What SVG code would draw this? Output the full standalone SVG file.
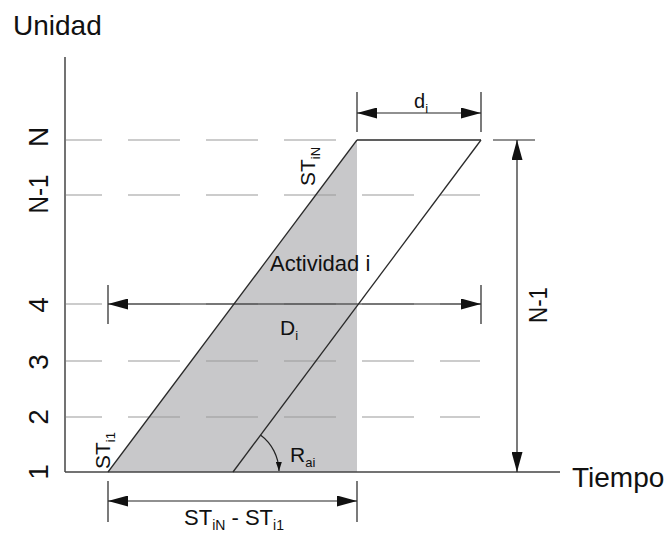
<svg xmlns="http://www.w3.org/2000/svg" width="669" height="538" viewBox="0 0 669 538">
<defs>
<style>
text{font-family:"Liberation Sans",Arial,sans-serif;fill:#111}
.grid{stroke:#9a9a9a;stroke-width:1.2;stroke-dasharray:52 26;stroke-dashoffset:16;fill:none}
.axis{stroke:#444;stroke-width:1.5;fill:none}
.edge{stroke:#2a2a2a;stroke-width:1.3;fill:none}
.dim{stroke:#222;stroke-width:1.2;fill:none}
.tick{stroke:#222;stroke-width:1.2}
.ax{font-size:28px}
.lbl{font-size:21px}
.sub{font-size:13px}
</style>
<marker id="arr" markerUnits="userSpaceOnUse" markerWidth="20" markerHeight="11" refX="20" refY="5.5" orient="auto-start-reverse">
<path d="M0,0 L20,5.5 L0,11 z" fill="#111"/>
</marker>
<marker id="arrS" markerUnits="userSpaceOnUse" markerWidth="9" markerHeight="6" refX="9" refY="3" orient="auto">
<path d="M0,0 L9,3 L0,6 z" fill="#111"/>
</marker>
</defs>
<rect width="669" height="538" fill="#fff"/>

<g id="shade">
<polygon points="108,472 357,140 357,472" fill="#c8c8ca"/>
</g>

<g id="grid">
<line class="grid" x1="66" y1="140" x2="357" y2="140"/>
<line class="grid" x1="66" y1="195" x2="480" y2="195"/>
<line class="grid" x1="66" y1="304" x2="480" y2="304"/>
<line class="grid" x1="66" y1="361" x2="480" y2="361"/>
<line class="grid" x1="66" y1="417" x2="480" y2="417"/>
</g>

<g id="axes">
<line class="axis" x1="65" y1="57" x2="65" y2="472"/>
<line class="axis" x1="65" y1="472" x2="560" y2="472"/>
<text x="13" y="35" font-size="28">Unidad</text>
<text x="572" y="487" font-size="28">Tiempo</text>
<g class="ax" text-anchor="middle">
<text transform="translate(48,137) rotate(-90)">N</text>
<text transform="translate(48,194) rotate(-90)" textLength="39" lengthAdjust="spacingAndGlyphs">N-1</text>
<text transform="translate(48,305) rotate(-90)">4</text>
<text transform="translate(48,362) rotate(-90)">3</text>
<text transform="translate(48,417) rotate(-90)">2</text>
<text transform="translate(48,472) rotate(-90)">1</text>
</g>
</g>

<g id="activity">
<line class="edge" x1="108" y1="472" x2="357" y2="140"/>
<line class="edge" x1="233" y1="472" x2="481" y2="140"/>
<line class="edge" x1="357" y1="140" x2="481" y2="140"/>
<text x="270" y="271" font-size="22">Actividad i</text>
<text transform="translate(315,186) rotate(-90)" class="lbl">ST<tspan class="sub" dy="5">iN</tspan></text>
<text transform="translate(110,469) rotate(-90)" class="lbl">ST<tspan class="sub" dy="5">i1</tspan></text>
</g>

<g id="connectors">
<!-- d_i -->
<line class="tick" x1="357" y1="92" x2="357" y2="132"/>
<line class="tick" x1="481" y1="92" x2="481" y2="132"/>
<line class="dim" x1="357" y1="113" x2="481" y2="113" marker-start="url(#arr)" marker-end="url(#arr)"/>
<!-- D_i -->
<line class="tick" x1="108" y1="285" x2="108" y2="324"/>
<line class="tick" x1="481" y1="285" x2="481" y2="324"/>
<line class="dim" x1="108" y1="304" x2="481" y2="304" marker-start="url(#arr)" marker-end="url(#arr)"/>
<!-- N-1 -->
<line class="tick" x1="493" y1="140" x2="535" y2="140"/>
<line class="dim" x1="517" y1="140" x2="517" y2="472" marker-start="url(#arr)" marker-end="url(#arr)"/>
<!-- ST difference -->
<line class="tick" x1="108" y1="481" x2="108" y2="522"/>
<line class="tick" x1="357" y1="481" x2="357" y2="522"/>
<line class="dim" x1="108" y1="501" x2="357" y2="501" marker-start="url(#arr)" marker-end="url(#arr)"/>
<!-- R_ai arc -->
<path class="dim" d="M260.5,435 A46,46 0 0 1 279,471" marker-end="url(#arrS)"/>
</g>

<g id="labels">
<text x="414" y="108" font-size="20">d<tspan font-size="13" dy="5">i</tspan></text>
<text x="280" y="335" font-size="21">D<tspan class="sub" dy="5">i</tspan></text>
<text x="290" y="462" class="lbl">R<tspan class="sub" dy="5">ai</tspan></text>
<text transform="translate(547,305) rotate(-90)" font-size="25" text-anchor="middle" textLength="36" lengthAdjust="spacingAndGlyphs">N-1</text>
<text x="184" y="525" font-size="22">ST<tspan font-size="14" dy="5">iN</tspan><tspan dy="-5"> - ST</tspan><tspan font-size="14" dy="5">i1</tspan></text>
</g>
</svg>
